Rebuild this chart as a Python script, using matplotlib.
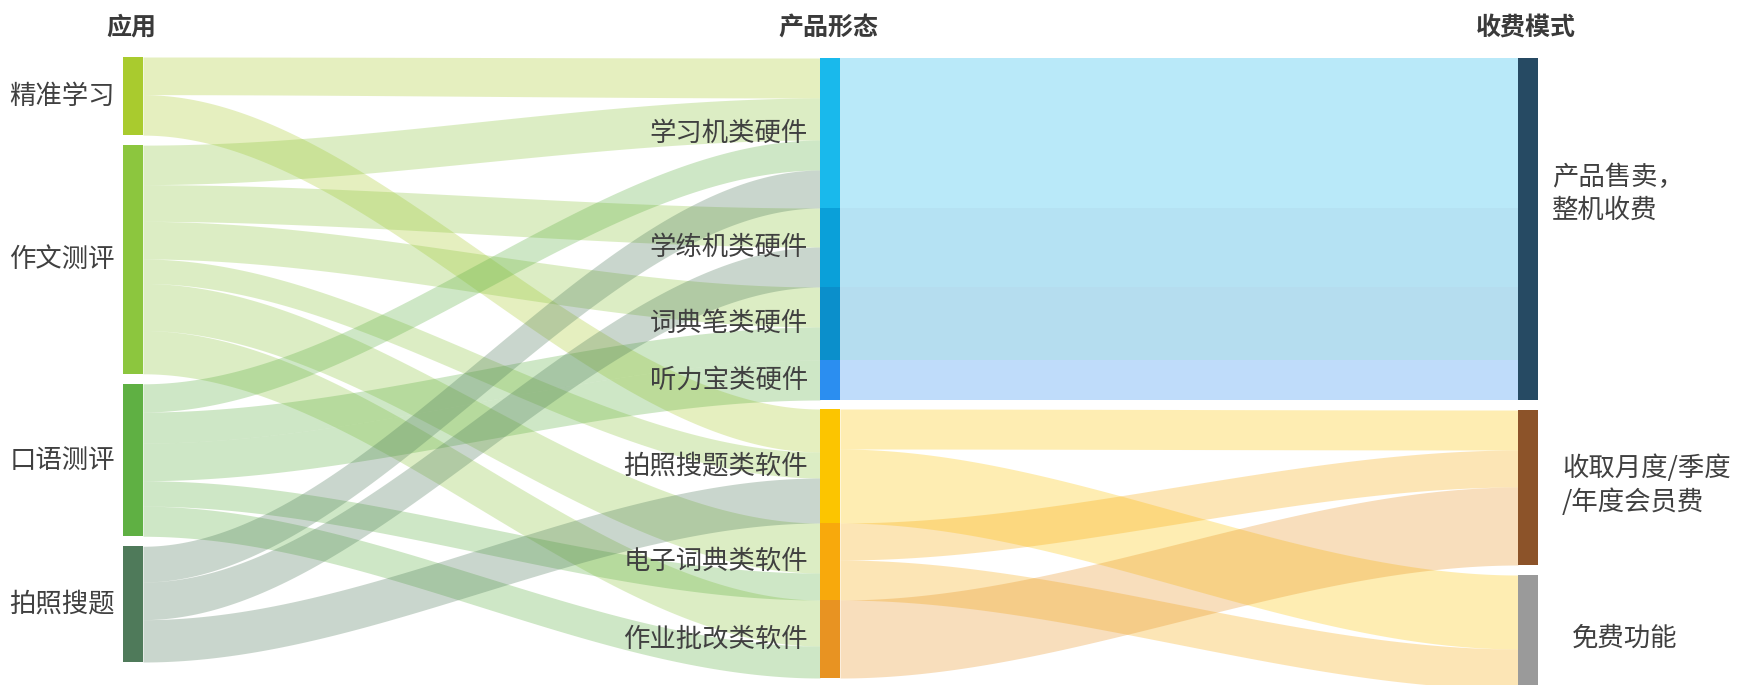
import numpy as np
import matplotlib.pyplot as plt
from matplotlib.patches import Rectangle

plt.rcParams['font.family'] = ['Noto Sans CJK SC', 'DejaVu Sans']

titles = ['应用', '产品形态', '收费模式']

apps = ['精准学习', '作文测评', '口语测评', '拍照搜题']
products = ['学习机类硬件', '学练机类硬件', '词典笔类硬件', '听力宝类硬件',
            '拍照搜题类软件', '电子词典类软件', '作业批改类软件']
fees = ['产品售卖，\n整机收费', '收取月度/季度\n/年度会员费', '免费功能']

app_colors = ['#a9cb2e', '#8cc63e', '#5fb043', '#4f7a5a']
product_colors = ['#19b9ec', '#0aa0d9', '#0b8fcb', '#2b8ef0',
                  '#fcc500', '#f8a90c', '#e89322']
fee_colors = ['#264a63', '#8c5329', '#9a9a9a']

# (source, target, value)
flows_app_product = [
    ('精准学习', '学习机类硬件', 40), ('精准学习', '拍照搜题类软件', 43),
    ('作文测评', '学习机类硬件', 42), ('作文测评', '学练机类硬件', 39),
    ('作文测评', '词典笔类硬件', 40), ('作文测评', '拍照搜题类软件', 26),
    ('作文测评', '电子词典类软件', 50), ('作文测评', '作业批改类软件', 46),
    ('口语测评', '学习机类硬件', 30), ('口语测评', '词典笔类硬件', 33),
    ('口语测评', '听力宝类硬件', 40), ('口语测评', '电子词典类软件', 27),
    ('口语测评', '作业批改类软件', 32),
    ('拍照搜题', '学习机类硬件', 38), ('拍照搜题', '学练机类硬件', 40),
    ('拍照搜题', '拍照搜题类软件', 45),
]
flows_product_fee = [
    ('学习机类硬件', '产品售卖，\n整机收费', 150),
    ('学练机类硬件', '产品售卖，\n整机收费', 79),
    ('词典笔类硬件', '产品售卖，\n整机收费', 73),
    ('听力宝类硬件', '产品售卖，\n整机收费', 40),
    ('拍照搜题类软件', '收取月度/季度\n/年度会员费', 40),
    ('拍照搜题类软件', '免费功能', 74),
    ('电子词典类软件', '收取月度/季度\n/年度会员费', 37),
    ('电子词典类软件', '免费功能', 40),
    ('作业批改类软件', '收取月度/季度\n/年度会员费', 78),
]

fig = plt.figure(figsize=(17.38, 6.85), dpi=100)
ax = fig.add_axes([0, 0, 1, 1])
ax.set_xlim(0, 1738)
ax.set_ylim(685, 0)
ax.axis('off')

col_x = [123, 820, 1518]
node_w = 20
col_span = [(57, 662), (58, 678), (58, 689)]
col_gaps = [[10, 10, 10], [0, 0, 0, 9, 0, 0], [10, 10]]


def totals(flows, names, idx):
    return {n: sum(f[2] for f in flows if f[idx] == n) for n in names}


def layout(names, tot, span, gaps):
    scale = (span[1] - span[0] - sum(gaps)) / sum(tot.values())
    pos = {}
    y = span[0]
    for i, n in enumerate(names):
        h = tot[n] * scale
        pos[n] = (y, y + h, scale)
        y += h + (gaps[i] if i < len(gaps) else 0)
    return pos


app_pos = layout(apps, totals(flows_app_product, apps, 0), col_span[0], col_gaps[0])
prod_pos = layout(products, totals(flows_app_product, products, 1), col_span[1], col_gaps[1])
fee_pos = layout(fees, totals(flows_product_fee, fees, 1), col_span[2], col_gaps[2])


def draw_stage(flows, src_names, tgt_names, src_pos, tgt_pos, x0, x1, colors):
    out_off = {n: src_pos[n][0] for n in src_names}
    in_off = {n: tgt_pos[n][0] for n in tgt_names}
    seg = {}
    for s, t, v in sorted(flows, key=lambda f: (src_names.index(f[0]), tgt_names.index(f[1]))):
        h = v * src_pos[s][2]
        seg[(s, t)] = [out_off[s], out_off[s] + h]
        out_off[s] += h
    for s, t, v in sorted(flows, key=lambda f: (tgt_names.index(f[1]), src_names.index(f[0]))):
        h = v * tgt_pos[t][2]
        seg[(s, t)] += [in_off[t], in_off[t] + h]
        in_off[t] += h
    xs = np.linspace(x0, x1, 300)
    tt = (xs - x0) / (x1 - x0)
    sm = tt * tt * (3 - 2 * tt)
    for (s, t), (a0, a1, b0, b1) in seg.items():
        top = a0 + (b0 - a0) * sm
        bot = a1 + (b1 - a1) * sm
        ax.fill_between(xs, top, bot, color=colors[src_names.index(s)],
                        alpha=0.3, lw=0, zorder=1)


draw_stage(flows_app_product, apps, products, app_pos, prod_pos,
           col_x[0] + node_w, col_x[1], app_colors)
draw_stage(flows_product_fee, products, fees, prod_pos, fee_pos,
           col_x[1] + node_w, col_x[2], product_colors)

for names, pos, colors, x in [(apps, app_pos, app_colors, col_x[0]),
                              (products, prod_pos, product_colors, col_x[1]),
                              (fees, fee_pos, fee_colors, col_x[2])]:
    for n, c in zip(names, colors):
        y0, y1, _ = pos[n]
        ax.add_patch(Rectangle((x, y0), node_w, y1 - y0, color=c, lw=0, zorder=3))

txt = '#404040'
fs = 19
for n in apps:
    y0, y1, _ = app_pos[n]
    ax.text(col_x[0] - 8, (y0 + y1) / 2, n, ha='right', va='center',
            fontsize=fs, color=txt, zorder=5)
for n in products:
    y0, y1, _ = prod_pos[n]
    ax.text(col_x[1] - 12, (y0 + y1) / 2, n, ha='right', va='center',
            fontsize=fs, color=txt, zorder=5)
fee_dx = [34, 44, 54]
fee_dy = [-35, -2, 6]
for n, dx, dy in zip(fees, fee_dx, fee_dy):
    y0, y1, _ = fee_pos[n]
    ax.text(col_x[2] + dx, (y0 + y1) / 2 + dy, n, ha='left', va='center',
            fontsize=fs, color=txt, linespacing=1.3, zorder=5)

for t, x in zip(titles, col_x):
    ax.text(x + 8, 28, t, ha='center', va='center', fontsize=18,
            fontweight='bold', color='#3a3a3a')

fig.savefig('out.png', dpi=100)
